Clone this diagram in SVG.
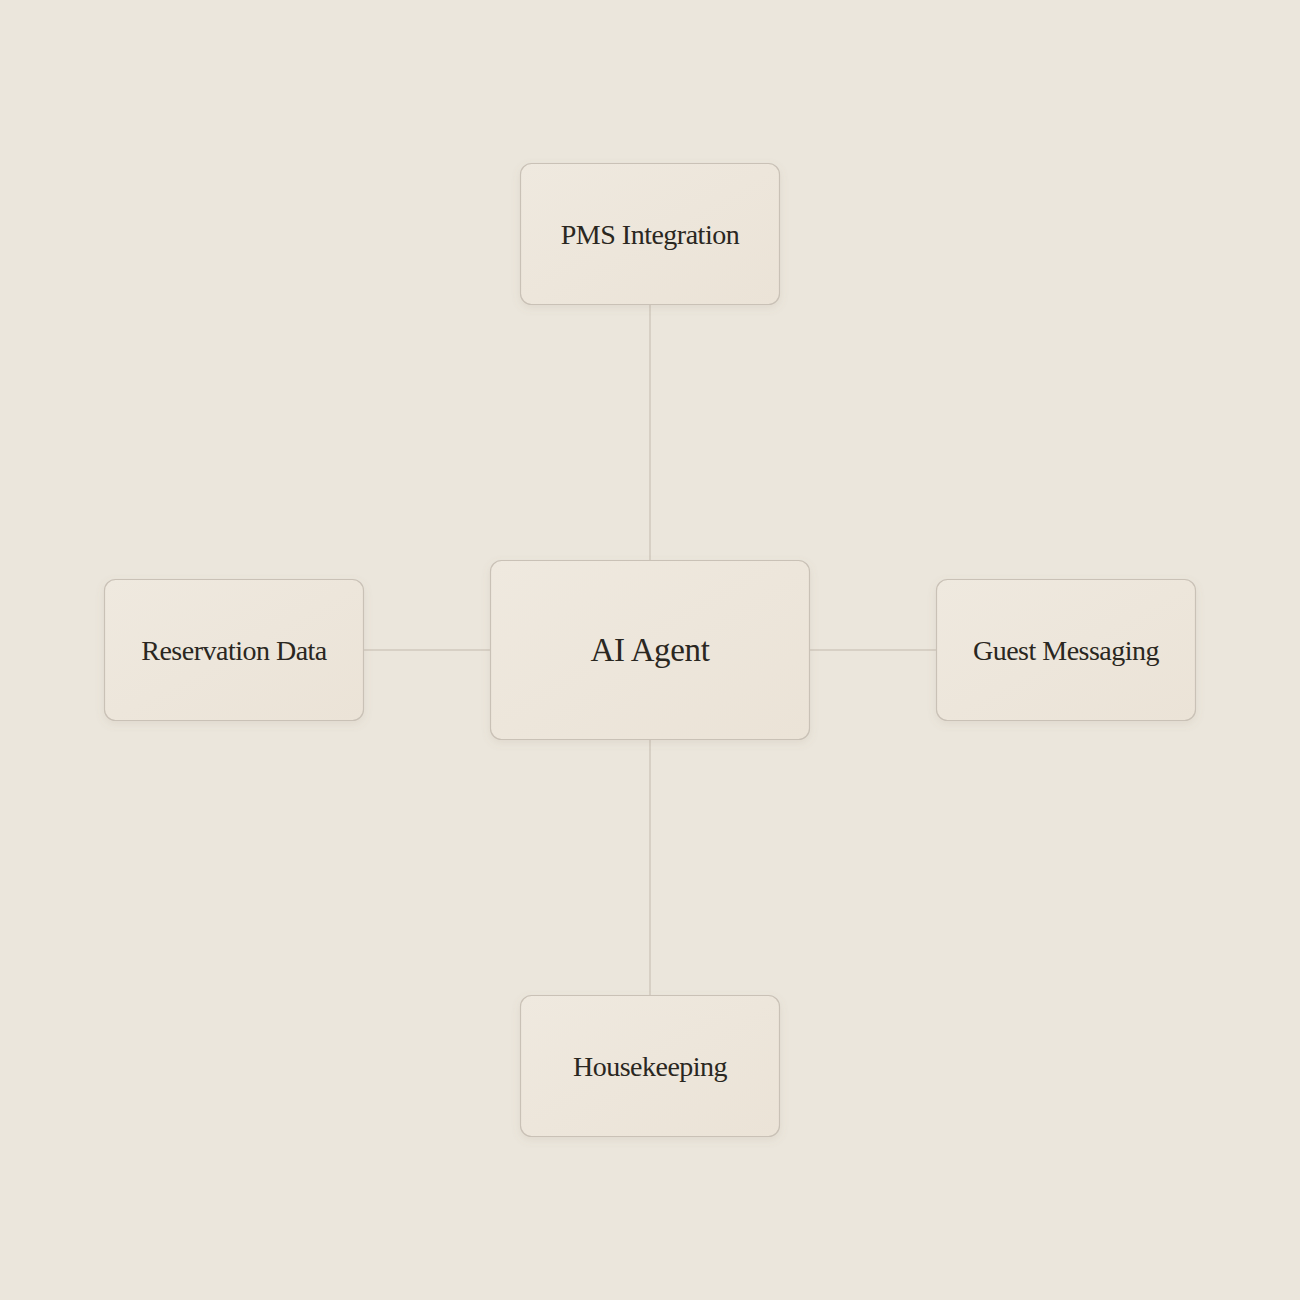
<svg xmlns="http://www.w3.org/2000/svg" width="1300" height="1300" viewBox="0 0 1300 1300">
  <defs>
    <linearGradient id="card" x1="0" y1="0" x2="1" y2="1">
      <stop offset="0" stop-color="#efe9df"/>
      <stop offset="1" stop-color="#ebe3d7"/>
    </linearGradient>
    <filter id="shadow" x="-20%" y="-20%" width="140%" height="150%">
      <feDropShadow dx="0" dy="3" stdDeviation="4" flood-color="#8a7a60" flood-opacity="0.12"/>
    </filter>
  </defs>
  <style>
    .box { fill: url(#card); stroke: #c9c1b6; stroke-width: 1.2; filter: url(#shadow); }
    .edge { stroke: #d0c9be; stroke-width: 1.5; fill: none; }
    .label { font-family: "Liberation Serif", "DejaVu Serif", serif; fill: #2a2721; text-anchor: middle; dominant-baseline: central; }
    .small { font-size: 28px; letter-spacing: -0.5px; }
    .big { font-size: 33px; letter-spacing: -0.35px; }
  </style>
  <rect width="1300" height="1300" fill="#ebe6dc"/>
  <g id="connectors">
    <line class="edge" x1="650" y1="305" x2="650" y2="560"/>
    <line class="edge" x1="650" y1="740" x2="650" y2="995"/>
    <line class="edge" x1="364" y1="650" x2="490" y2="650"/>
    <line class="edge" x1="810" y1="650" x2="936" y2="650"/>
  </g>
  <g id="pms">
    <rect class="box" x="520.5" y="163.5" width="259" height="141" rx="11"/>
    <text class="label small" x="650" y="234">PMS Integration</text>
  </g>
  <g id="reservation">
    <rect class="box" x="104.5" y="579.5" width="259" height="141" rx="11"/>
    <text class="label small" x="234" y="650">Reservation Data</text>
  </g>
  <g id="agent">
    <rect class="box" x="490.5" y="560.5" width="319" height="179" rx="11"/>
    <text class="label big" x="650" y="650">AI Agent</text>
  </g>
  <g id="guest">
    <rect class="box" x="936.5" y="579.5" width="259" height="141" rx="11"/>
    <text class="label small" x="1066" y="650">Guest Messaging</text>
  </g>
  <g id="housekeeping">
    <rect class="box" x="520.5" y="995.5" width="259" height="141" rx="11"/>
    <text class="label small" x="650" y="1066">Housekeeping</text>
  </g>
</svg>
